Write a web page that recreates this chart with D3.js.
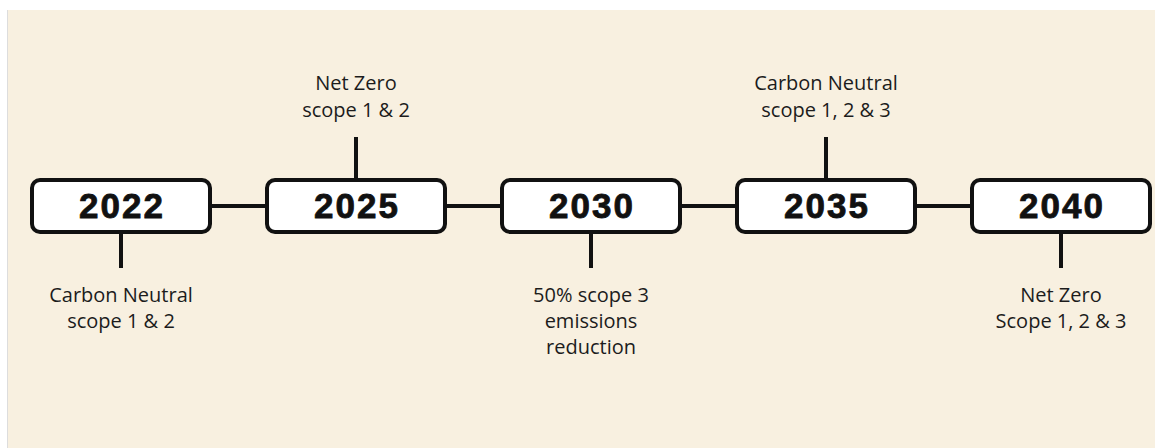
<!DOCTYPE html>
<html>
<head>
<meta charset="utf-8">
<script src="https://cdn.jsdelivr.net/npm/d3@7"></script>
<style>
  html, body { margin: 0; padding: 0; background: #fff; }
  svg { display: block; }
</style>
</head>
<body>
<div id="chart"></div>
<script>
// milestones
var years = ['2022', '2025', '2030', '2035', '2040'],
    sides = ['below', 'above', 'below', 'above', 'below'],
    notes = [
        ['Carbon Neutral', 'scope 1 & 2'],
        ['Net Zero', 'scope 1 & 2'],
        ['50% scope 3', 'emissions', 'reduction'],
        ['Carbon Neutral', 'scope 1, 2 & 3'],
        ['Net Zero', 'Scope 1, 2 & 3'],
    ]

var width = 1155,
    height = 448,
    boxW = 178,
    boxH = 52,
    lineY = 206,
    ink = '#111',
    bg = '#f8f0e0'

var svg = d3
    .select('#chart')
    .append('svg')
    .attr('width', width)
    .attr('height', height)

// фон
svg.append('rect')
    .attr('x', 8)
    .attr('y', 10)
    .attr('width', width - 8)
    .attr('height', height - 10)
    .attr('fill', bg)
svg.append('line')
    .attr('x1', 7.5)
    .attr('x2', 7.5)
    .attr('y1', 10)
    .attr('y2', height)
    .style('stroke', '#ddd')
    .style('stroke-width', 1)

var x = d3.scalePoint().domain(years).range([121, 1061])

// соединительная линия
svg.append('line')
    .attr('x1', x(years[0]))
    .attr('x2', x(years[years.length - 1]))
    .attr('y1', lineY)
    .attr('y2', lineY)
    .style('stroke', ink)
    .style('stroke-width', 4)

var data = years.map(function (y, i) {
    return { year: y, side: sides[i], lines: notes[i] }
})

var g = svg
    .selectAll('.milestone')
    .data(data)
    .enter()
    .append('g')
    .attr('class', 'milestone')
    .attr('transform', function (d) {
        return 'translate(' + x(d.year) + ',0)'
    })

// стойки
g.append('line')
    .attr('x1', 0)
    .attr('x2', 0)
    .attr('y1', function (d) {
        return d.side === 'above' ? 137 : lineY
    })
    .attr('y2', function (d) {
        return d.side === 'above' ? lineY : 268
    })
    .style('stroke', ink)
    .style('stroke-width', 4)

g.append('rect')
    .attr('x', -boxW / 2)
    .attr('y', lineY - boxH / 2)
    .attr('width', boxW)
    .attr('height', boxH)
    .attr('rx', 8)
    .attr('fill', '#fff')
    .style('stroke', ink)
    .style('stroke-width', 4)

g.append('text')
    .text(function (d) {
        return d.year
    })
    .attr('x', 1)
    .attr('y', lineY + 12)
    .attr('text-anchor', 'middle')
    .style('font-family', '"Liberation Sans", Arial, sans-serif')
    .style('font-weight', 700)
    .style('font-size', '35px')
    .style('letter-spacing', '2px')
    .style('stroke', ink)
    .style('stroke-width', 0.8)
    .attr('fill', ink)

// подписи
g.append('text')
    .attr('text-anchor', 'middle')
    .style('font-family', '"Open Sans", sans-serif')
    .style('font-size', '20px')
    .attr('fill', '#1c1c1c')
    .selectAll('tspan')
    .data(function (d) {
        var n = d.lines.length
        return d.lines.map(function (t, i) {
            var y = d.side === 'above' ? 117 - (n - 1 - i) * 27 : 302 + i * 26
            return { t: t, y: y }
        })
    })
    .enter()
    .append('tspan')
    .attr('x', 0)
    .attr('y', function (d) {
        return d.y
    })
    .text(function (d) {
        return d.t
    })
</script>
</body>
</html>
